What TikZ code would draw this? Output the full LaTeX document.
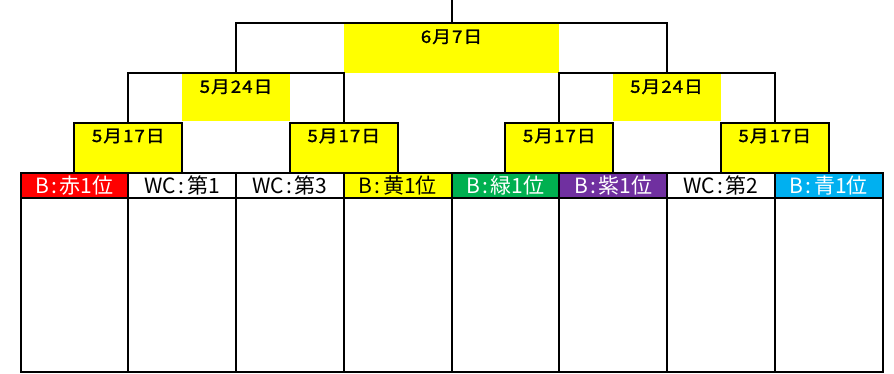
\documentclass[tikz,border=0pt]{standalone}
\usepackage{fontspec}
\newfontfamily\jp{Noto Sans CJK JP}
\newfontfamily\jpd{Noto Sans CJK JP}[FakeStretch=1.1, LetterSpace=6, FakeBold=1.5]
\definecolor{xred}{HTML}{FF0000}
\definecolor{xyel}{HTML}{FFFF00}
\definecolor{xgrn}{HTML}{00B050}
\definecolor{xpur}{HTML}{7030A0}
\definecolor{xblu}{HTML}{00B0F0}
\newcommand{\cln}{\hspace{2.5pt}:\hspace{2.5pt}}
\tikzset{
  ln/.style={line width=2pt, draw=black},
  head/.style={ln, rectangle, minimum width=107.75pt, minimum height=25pt, inner sep=0pt,
    font=\jp\fontsize{21pt}{21pt}\selectfont},
  body/.style={ln, rectangle, minimum width=107.75pt, minimum height=174pt, inner sep=0pt},
  datelbl/.style={anchor=center, yshift=-14pt, inner sep=0pt, text=black,
    font=\jpd\fontsize{17pt}{17pt}\selectfont},
  rbox/.style={ln, fill=xyel, rectangle, minimum width=107.75pt, minimum height=50pt, inner sep=0pt},
  qbox/.style={fill=xyel, rectangle, minimum width=108pt, minimum height=48pt, inner sep=0pt},
  fbox/.style={fill=xyel, rectangle, minimum width=215.5pt, minimum height=50pt, inner sep=0pt},
}
\begin{document}
\begin{tikzpicture}[x=1pt, y=-1pt]
\useasboundingbox (0,0) rectangle (894,373);
% fills for upper levels
\node[fbox] (f) at (451.5,48) {};
\node[qbox] (q1) at (236,97) {};
\node[qbox] (q2) at (666.5,97) {};
% round 1 boxes
\node[rbox, label={[datelbl]north:5月17日}] (r1) at (128.25,148) {};
\node[rbox, label={[datelbl]north:5月17日}] (r2) at (343.75,148) {};
\node[rbox, label={[datelbl]north:5月17日}] (r3) at (559.25,148) {};
\node[rbox, label={[datelbl]north:5月17日}] (r4) at (774.75,148) {};
% body cells
\foreach \i in {0,...,7} {
  \node[body] (b\i) at ({74.4+107.75*\i},285) {};
}
% header cells
\node[head, fill=xred, text=white] (h0) at (74.4,185.5) {B\cln 赤1位};
\node[head, fill=white] (h1) at (182.15,185.5) {WC\cln 第1};
\node[head, fill=white] (h2) at (289.9,185.5) {WC\cln 第3};
\node[head, fill=xyel] (h3) at (397.65,185.5) {B\cln 黄1位};
\node[head, fill=xgrn, text=white] (h4) at (505.4,185.5) {B\cln 緑1位};
\node[head, fill=xpur, text=white] (h5) at (613.15,185.5) {B\cln 紫1位};
\node[head, fill=white] (h6) at (720.9,185.5) {WC\cln 第2};
\node[head, fill=xblu, text=white] (h7) at (828.65,185.5) {B\cln 青1位};
% bracket lines
\draw[ln] (r1.north) |- (q1.north) -| (r2.north);
\draw[ln] (r3.north) |- (q2.north) -| (r4.north);
\draw[ln] (q1.north) |- (f.north) -| (q2.north);
\coordinate (top) at (451.5,0);
\draw[ln] (f.north) -- (top);
% date labels
\node[datelbl] (t2a) at (q1.north) {5月24日};
\node[datelbl] (t2b) at (q2.north) {5月24日};
\node[datelbl] (t3) at (f.north) {6月7日};
\end{tikzpicture}
\end{document}
